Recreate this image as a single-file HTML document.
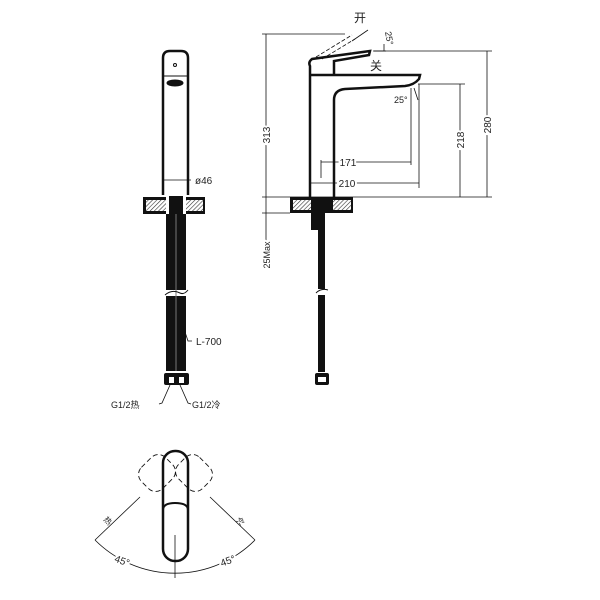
<!DOCTYPE html>
<html><head><meta charset="utf-8"><style>
html,body{margin:0;padding:0;background:#fff;}
svg{display:block;}
text{font-family:"Liberation Sans","Noto Sans CJK SC",sans-serif;fill:#222;}
</style></head><body>
<svg width="600" height="600" viewBox="0 0 600 600" xmlns="http://www.w3.org/2000/svg">
<defs>
<pattern id="h" width="3" height="3" patternUnits="userSpaceOnUse" patternTransform="rotate(45)">
<rect width="3" height="3" fill="#fff"/><line x1="0" y1="0" x2="0" y2="3" stroke="#333" stroke-width="1.2"/>
</pattern>
</defs>
<g fill="none" stroke="#111">
<!-- FRONT VIEW -->
<path d="M163,195 L163,58 Q163,51 170,51 L181,51 Q188,51 188,58 L188,195" stroke-width="2.5"/>
<line x1="163" y1="76" x2="188" y2="76" stroke-width="1"/>
<circle cx="175" cy="65" r="1.5" stroke-width="1"/>
<ellipse cx="175" cy="83" rx="8" ry="3" fill="#111"/>
<line x1="164" y1="180" x2="191" y2="180" stroke-width="0.8"/>
<rect x="143" y="197" width="62" height="17" fill="#111" stroke="none"/>
<rect x="146" y="200" width="20" height="11" fill="url(#h)" stroke="none"/>
<rect x="186" y="200" width="17" height="11" fill="url(#h)" stroke="none"/>
<rect x="166" y="197" width="20" height="20" fill="#fff" stroke="none"/>
<rect x="169" y="196" width="14" height="20" fill="#111" stroke="none"/>
<rect x="166" y="214" width="20" height="76" fill="#111" stroke="none"/>
<rect x="166" y="296" width="20" height="75" fill="#111" stroke="none"/>
<line x1="176" y1="214" x2="176" y2="371" stroke="#777" stroke-width="1"/>
<path d="M165,295 Q172,289 180,293 Q184,295 188,290" stroke="#111" stroke-width="1"/>
<rect x="164" y="373" width="25" height="12" rx="2" fill="#111" stroke="none"/>
<rect x="169" y="377" width="5" height="6" fill="#fff" stroke="none"/>
<rect x="179" y="377" width="5" height="6" fill="#fff" stroke="none"/>
<path d="M183,326 L188,341 L192,341" stroke-width="0.8"/>
<path d="M170,385 L162,403 L159,404" stroke-width="0.8"/>
<path d="M180,385 L188,403 L191,404" stroke-width="0.8"/>
<!-- SIDE VIEW -->
<path d="M310,197 L310,66 Q308,62 312,59 L370,51 L369,55 L334,61 L334,75" stroke-width="2.5"/>
<path d="M310,75 L420,75 L419,79 Q414,85 405,86 L345,89 Q334,90 334,100 L334,197" stroke-width="2.5"/>
<path d="M316,57 L352,35" stroke-width="0.8" stroke-dasharray="4,2"/>
<path d="M322,59 L355,39" stroke-width="0.8" stroke-dasharray="4,2"/>
<line x1="352" y1="41" x2="368" y2="30" stroke-width="0.8"/>
<line x1="374" y1="51" x2="386" y2="51" stroke-width="0.8"/>
<line x1="384" y1="44" x2="384" y2="51" stroke-width="0.8"/>
<rect x="290" y="197" width="63" height="16" fill="#111" stroke="none"/>
<rect x="293" y="200" width="18" height="10" fill="url(#h)" stroke="none"/>
<rect x="333" y="200" width="18" height="10" fill="url(#h)" stroke="none"/>
<rect x="313" y="199" width="16" height="12" fill="#111" stroke="none"/>
<rect x="311" y="213" width="7" height="17" fill="#111" stroke="none"/>
<rect x="318" y="213" width="7" height="76" fill="#111" stroke="none"/>
<rect x="318" y="295" width="7" height="77" fill="#111" stroke="none"/>
<path d="M316,293 Q321,288 328,290" stroke-width="1"/>
<rect x="315" y="373" width="14" height="12" rx="2" fill="#111" stroke="none"/>
<rect x="318" y="377" width="8" height="5" fill="#fff" stroke="none"/>
<!-- dims -->
<g stroke-width="0.8">
<line x1="262" y1="34" x2="345" y2="34"/>
<line x1="266" y1="34" x2="266" y2="270"/>
<line x1="262" y1="197" x2="492" y2="197"/>
<line x1="262" y1="213" x2="290" y2="213"/>
<line x1="373" y1="51" x2="492" y2="51"/>
<line x1="487" y1="51" x2="487" y2="197"/>
<line x1="418" y1="84" x2="465" y2="84"/>
<line x1="460" y1="84" x2="460" y2="197"/>
<line x1="411" y1="88" x2="411" y2="165"/>
<line x1="321" y1="160" x2="321" y2="178"/>
<line x1="321" y1="162" x2="411" y2="162"/>
<line x1="419" y1="84" x2="419" y2="188"/>
<line x1="311" y1="183" x2="419" y2="183"/>
<path d="M414,88 L418,100"/>
</g>
<!-- BOTTOM VIEW -->
<rect x="163" y="451" width="25" height="110" rx="12" stroke-width="2.5"/>
<path d="M163,510 Q163,503 175,503 Q188,503 188,510" stroke-width="2"/>
<g stroke-dasharray="5,3" stroke-width="0.9">
<rect x="140" y="458" width="34" height="30" rx="10" transform="rotate(-45 157 473)"/>
<rect x="177" y="458" width="34" height="30" rx="10" transform="rotate(45 194 473)"/>
</g>
<line x1="175" y1="535" x2="175" y2="578" stroke-width="0.8"/>
<line x1="95" y1="540" x2="140" y2="497" stroke-width="0.8"/>
<line x1="255" y1="540" x2="210" y2="497" stroke-width="0.8"/>
<path d="M95,540 A113,113 0 0 0 255,540" stroke-width="0.8"/>
</g>
<g font-size="10">
<text x="195" y="184">ø46</text>
<text x="196" y="345">L-700</text>
<text x="111" y="408" font-size="9">G1/2热</text>
<text x="192" y="408" font-size="9">G1/2冷</text>
<text x="354" y="22" font-size="12">开</text>
<text x="370" y="70" font-size="12">关</text>
<text x="394" y="103" font-size="9">25°</text>
<text x="348" y="166" text-anchor="middle" fill="#222" style="paint-order:stroke" stroke="#fff" stroke-width="4">171</text>
<text x="347" y="187" text-anchor="middle" style="paint-order:stroke" stroke="#fff" stroke-width="4">210</text>
<text transform="translate(385,32) rotate(80)" font-size="9">25°</text>
<text transform="translate(270,135) rotate(-90)" text-anchor="middle" style="paint-order:stroke" stroke="#fff" stroke-width="4">313</text>
<text transform="translate(464,140) rotate(-90)" text-anchor="middle" style="paint-order:stroke" stroke="#fff" stroke-width="4">218</text>
<text transform="translate(491,125) rotate(-90)" text-anchor="middle" style="paint-order:stroke" stroke="#fff" stroke-width="4">280</text>
<text transform="translate(270,255) rotate(-90)" text-anchor="middle" font-size="9" style="paint-order:stroke" stroke="#fff" stroke-width="4">25Max</text>
<text transform="translate(121,564) rotate(20)" text-anchor="middle" style="paint-order:stroke" stroke="#fff" stroke-width="4">45°</text>
<text transform="translate(229,564) rotate(-20)" text-anchor="middle" style="paint-order:stroke" stroke="#fff" stroke-width="4">45°</text>
<text transform="translate(103,520) rotate(45)" font-size="8">热</text>
<text transform="translate(240,526) rotate(-45)" font-size="8">冷</text>
</g>
</svg>
</body></html>
